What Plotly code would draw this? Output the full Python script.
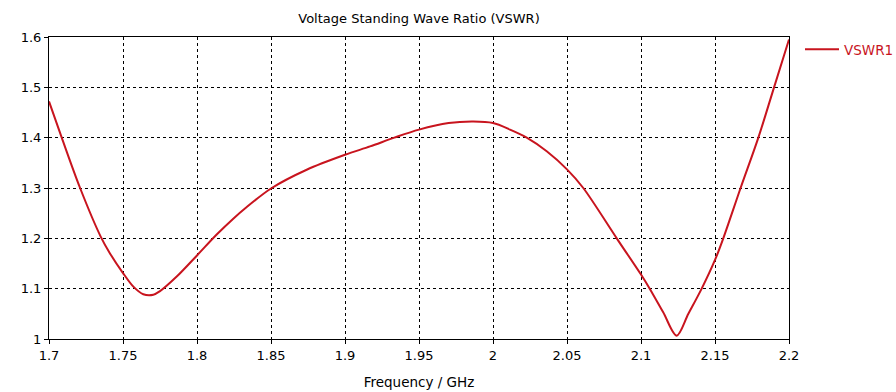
import plotly.graph_objects as go

freq = [1.700, 1.7086, 1.721, 1.735, 1.7412, 1.750, 1.757, 1.7637, 1.7705, 1.7748,
        1.7863, 1.800, 1.8133, 1.8245, 1.8324, 1.850, 1.8741, 1.900, 1.9169, 1.9333,
        1.950, 1.970, 1.9867, 2.000, 2.0115, 2.0228, 2.0363, 2.050, 2.061, 2.0836,
        2.100, 2.1061, 2.115, 2.1241, 2.132, 2.141, 2.150, 2.1556, 2.1673, 2.1793,
        2.1899, 2.200]
vswr = [1.472, 1.400, 1.300, 1.203, 1.170, 1.131, 1.104, 1.089, 1.088, 1.0946,
        1.124, 1.166, 1.2076, 1.2391, 1.2593, 1.299, 1.3363, 1.366, 1.3826, 1.400,
        1.416, 1.429, 1.432, 1.429, 1.416, 1.400, 1.373, 1.337, 1.300, 1.200,
        1.128, 1.099, 1.053, 1.0066, 1.050, 1.100, 1.157, 1.200, 1.300, 1.400,
        1.500, 1.595]

x_ticks = [1.7, 1.75, 1.8, 1.85, 1.9, 1.95, 2.0, 2.05, 2.1, 2.15, 2.2]
x_labels = ["1.7", "1.75", "1.8", "1.85", "1.9", "1.95", "2", "2.05", "2.1", "2.15", "2.2"]
y_ticks = [1.0, 1.1, 1.2, 1.3, 1.4, 1.5, 1.6]
y_labels = ["1", "1.1", "1.2", "1.3", "1.4", "1.5", "1.6"]

red = "#c8141e"
font = "DejaVu Sans"

fig = go.Figure()
fig.add_trace(go.Scatter(x=freq, y=vswr, mode="lines", name="VSWR1",
                         line=dict(color=red, width=2, shape="spline", smoothing=0.9)))

axis_common = dict(showline=True, linecolor="black", linewidth=1, mirror=True,
                   showgrid=True, gridcolor="black", gridwidth=1, griddash="3px,3px",
                   ticks="outside", ticklen=4, tickcolor="black", zeroline=False,
                   automargin=False,
                   tickfont=dict(family=font, size=13, color="black"))

fig.update_layout(
    width=896, height=392,
    margin=dict(l=49, r=107, t=37, b=53),
    paper_bgcolor="white", plot_bgcolor="white",
    title=dict(text="Voltage Standing Wave Ratio (VSWR)", x=(49 + 370) / 896, xanchor="center",
               y=1 - 18 / 392, yanchor="middle",
               font=dict(family=font, size=13, color="black")),
    xaxis=dict(range=[1.7, 2.2], tickvals=x_ticks, ticktext=x_labels,
               title=dict(text="Frequency / GHz", font=dict(family=font, size=13.5, color="black"),
                          standoff=15),
               **axis_common),
    yaxis=dict(range=[1.0, 1.6], tickvals=y_ticks, ticktext=y_labels, **axis_common),
    showlegend=True,
    legend=dict(xref="container", yref="container", x=800 / 896, y=1 - 34 / 392,
                xanchor="left", yanchor="top", bgcolor="rgba(0,0,0,0)",
                font=dict(family=font, size=13.5, color=red), itemwidth=34),
)

post = ("document.body.style.margin='0';document.body.style.padding='0';"
        "document.body.style.overflow='hidden';")

fig.write_html("out.html", post_script=post,
               config={"responsive": False, "displayModeBar": False})
